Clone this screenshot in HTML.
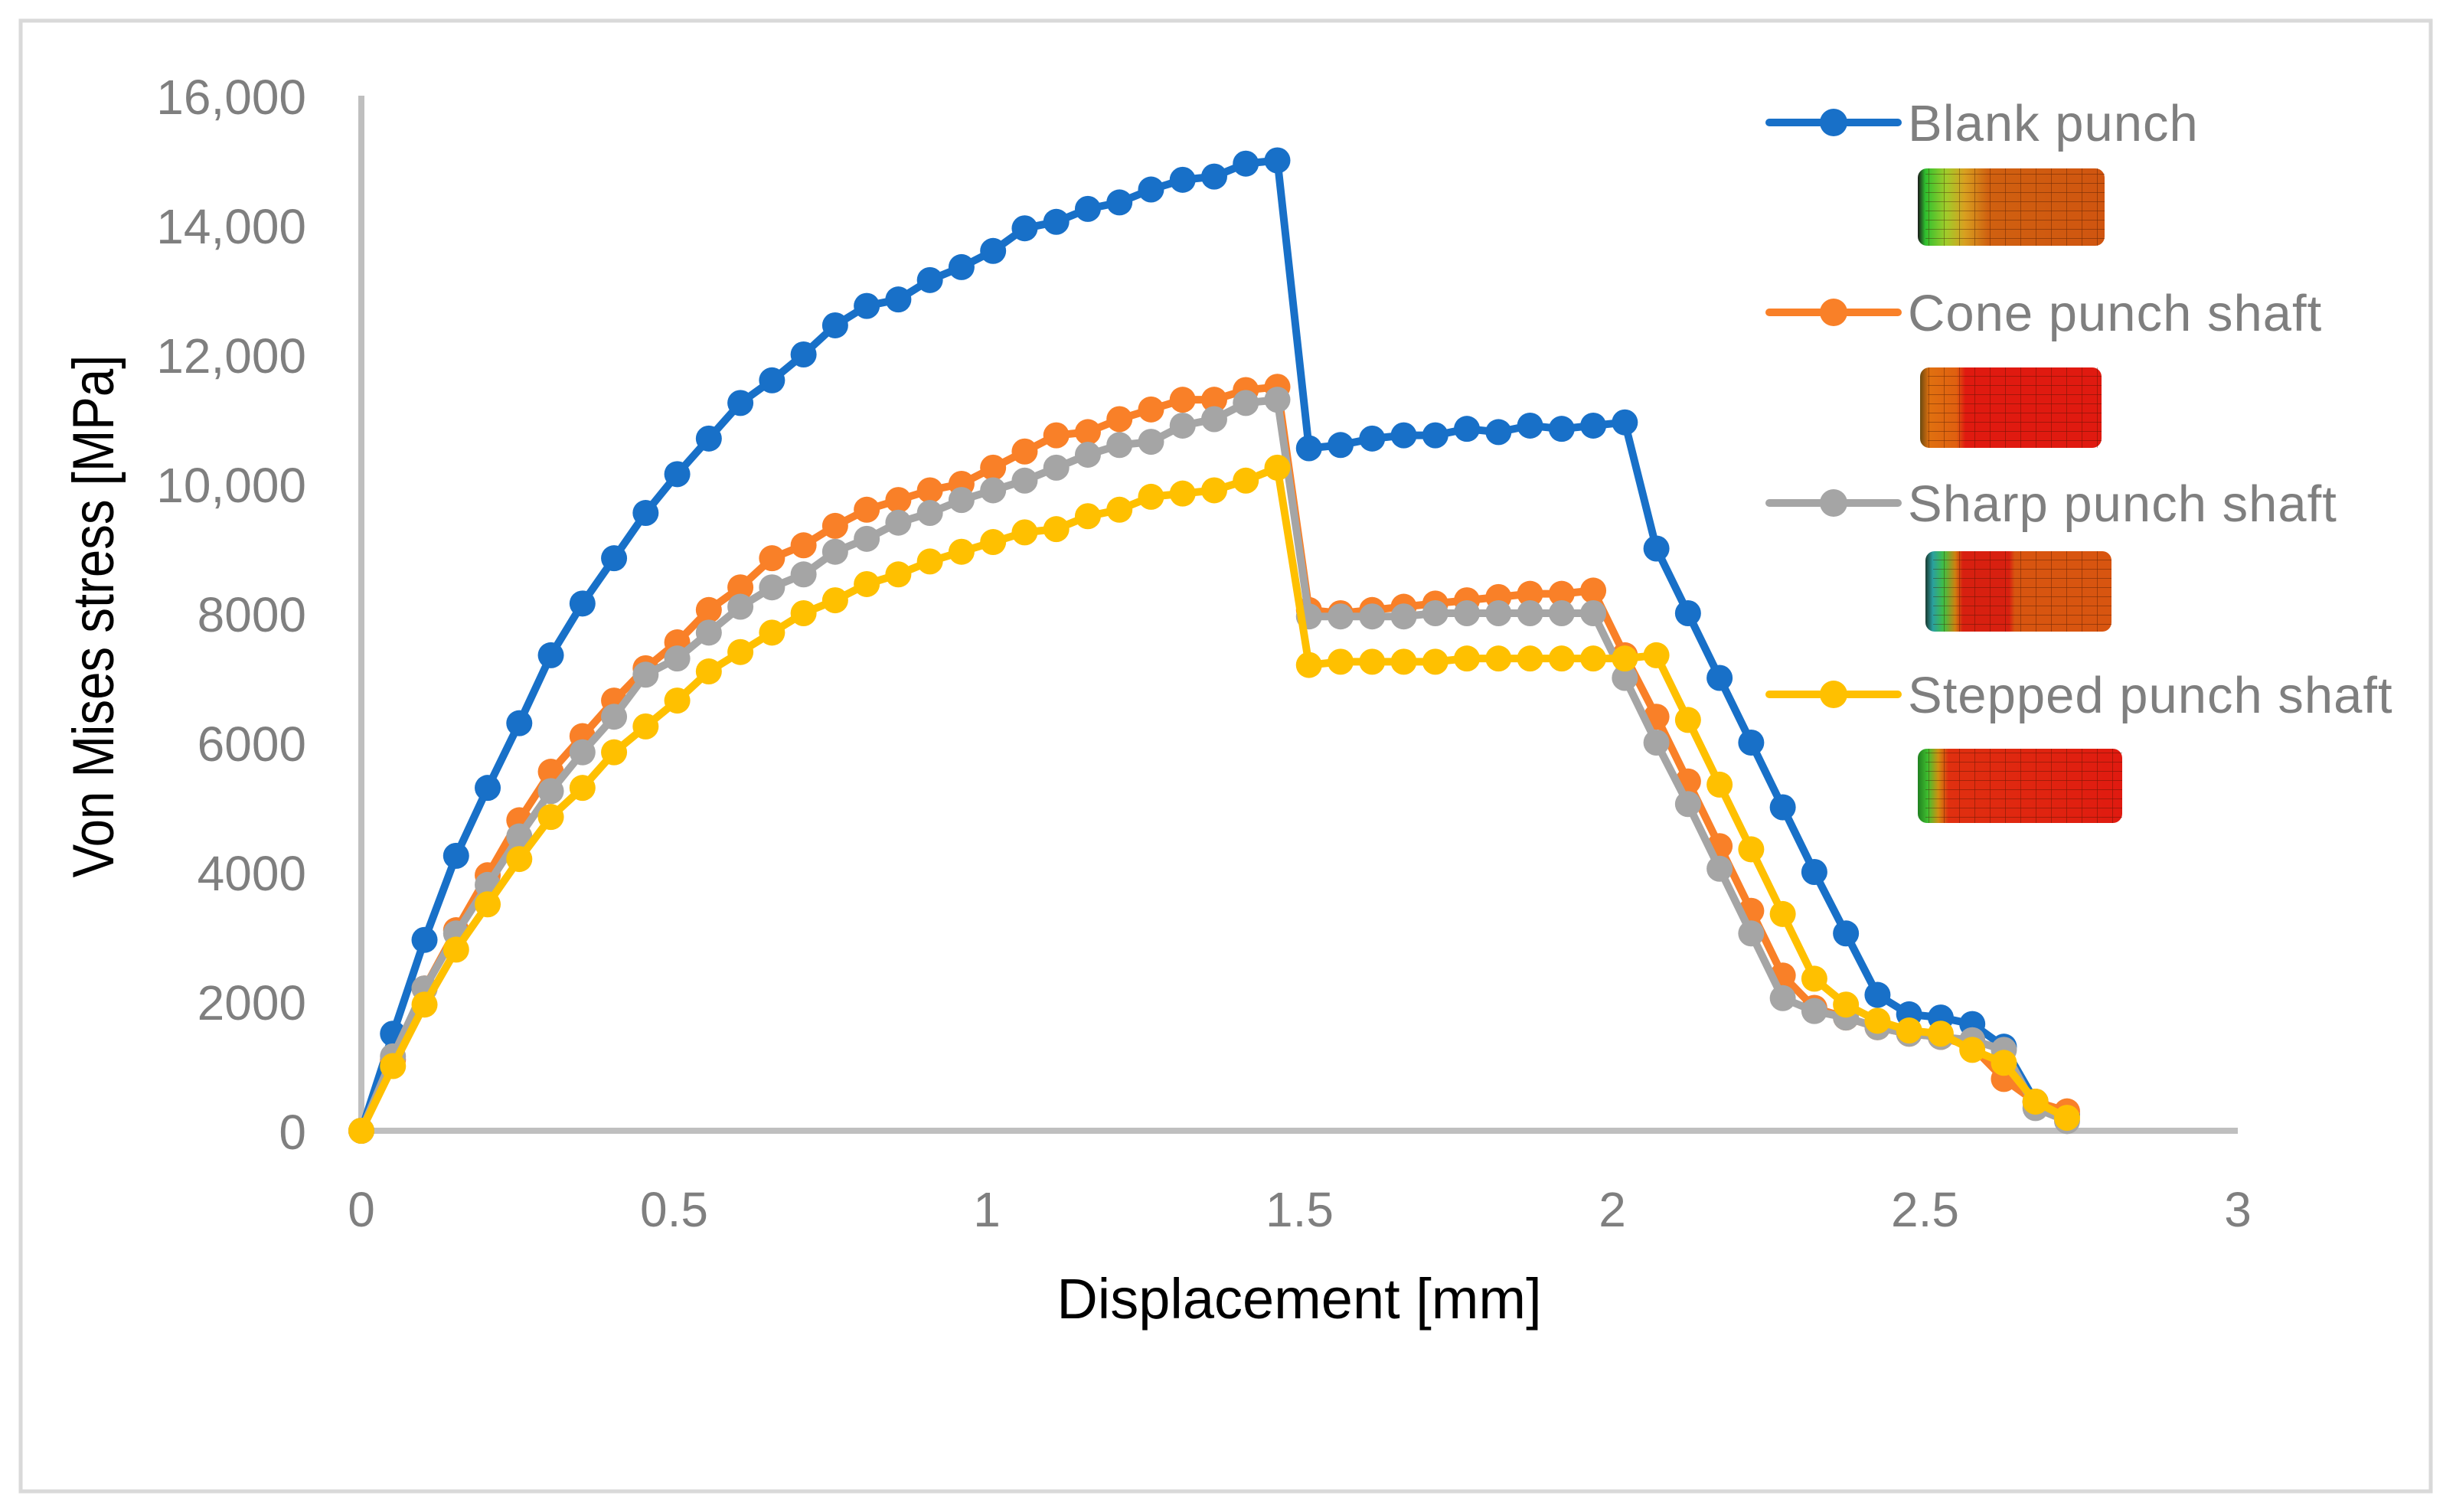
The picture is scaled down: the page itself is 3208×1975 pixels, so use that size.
<!DOCTYPE html>
<html><head><meta charset="utf-8"><style>
html,body{margin:0;padding:0;background:#fff;}
svg{display:block;}
</style></head><body>
<svg id="chart" width="3208" height="1975" viewBox="0 0 3208 1975" xmlns="http://www.w3.org/2000/svg" font-family="'Liberation Sans', sans-serif">
<defs>
<linearGradient id="g1" x1="0" x2="1"><stop offset="0" stop-color="#1a1a1a"/><stop offset="0.04" stop-color="#2fbf2f"/><stop offset="0.15" stop-color="#9fcc2a"/><stop offset="0.25" stop-color="#d8a020"/><stop offset="0.38" stop-color="#d06010"/><stop offset="1" stop-color="#d05510"/></linearGradient>
<linearGradient id="g2" x1="0" x2="1"><stop offset="0" stop-color="#6a4a10"/><stop offset="0.05" stop-color="#e07010"/><stop offset="0.2" stop-color="#e06010"/><stop offset="0.25" stop-color="#e01a10"/><stop offset="1" stop-color="#e01a10"/></linearGradient>
<linearGradient id="g3" x1="0" x2="1"><stop offset="0" stop-color="#1a3a30"/><stop offset="0.04" stop-color="#2aa0a0"/><stop offset="0.1" stop-color="#40c040"/><stop offset="0.16" stop-color="#d08010"/><stop offset="0.2" stop-color="#d82010"/><stop offset="0.45" stop-color="#d82010"/><stop offset="0.48" stop-color="#d85510"/><stop offset="1" stop-color="#d85510"/></linearGradient>
<linearGradient id="g4" x1="0" x2="1"><stop offset="0" stop-color="#208020"/><stop offset="0.05" stop-color="#40c030"/><stop offset="0.1" stop-color="#d09010"/><stop offset="0.15" stop-color="#e03010"/><stop offset="1" stop-color="#e01a10"/></linearGradient>
<pattern id="mesh" width="20" height="12" patternUnits="userSpaceOnUse"><path d="M20 0V12M0 12H20" stroke="#3a1000" stroke-width="1.2" fill="none" opacity="0.6"/></pattern>
</defs>
<rect x="27" y="27" width="3148" height="1921" fill="#fff" stroke="#d9d9d9" stroke-width="5"/>
<g id="axes"></g>
<g id="series"></g>
<g id="legend"></g>
</svg>
<script>
const xStep = 0.0505;
const yTicks = [0, 2000, 4000, 6000, 8000, 10000, 12000, 14000, 16000];
const yTickLabels = ["0","2000","4000","6000","8000","10,000","12,000","14,000","16,000"];
const xTicks = [0, 0.5, 1, 1.5, 2, 2.5, 3];
const xTickLabels = ["0","0.5","1","1.5","2","2.5","3"];
const seriesNames = ["Blank punch","Cone punch shaft","Sharp punch shaft","Stepped punch shaft"];
const blankPunch = [0,1500,2950,4250,5300,6300,7350,8150,8850,9550,10150,10700,11250,11600,12000,12450,12750,12850,13150,13350,13600,13950,14050,14250,14350,14550,14700,14750,14950,15000,
 10550,10600,10700,10750,10750,10850,10800,10900,10850,10900,10950,
 9000,8000,7000,6000,5000,4000,3050,2100,1800,1750,1650,1300,450,250];
const conePunch = [0,1100,2200,3100,3950,4800,5550,6100,6650,7150,7550,8050,8400,8850,9050,9350,9600,9750,9900,10000,10250,10500,10750,10800,11000,11150,11300,11300,11450,11500,
 8050,8000,8050,8100,8150,8200,8250,8300,8300,8350,
 7350,6400,5400,4400,3400,2400,1900,1750,1600,1500,1450,1300,800,450,300];
const sharpPunch = [0,1150,2200,3050,3800,4550,5250,5850,6400,7050,7300,7700,8100,8400,8600,8950,9150,9400,9550,9750,9900,10050,10250,10450,10600,10650,10900,11000,11250,11300,
 7950,7950,7950,7950,8000,8000,8000,8000,8000,8000,
 7000,6000,5050,4050,3050,2050,1850,1750,1600,1500,1450,1400,1250,350,150];
const steppedPunch = [0,1000,1950,2800,3500,4200,4850,5300,5850,6250,6650,7100,7400,7700,8000,8200,8450,8600,8800,8950,9100,9250,9300,9500,9600,9800,9850,9900,10050,10250,
 7200,7250,7250,7250,7250,7300,7300,7300,7300,7300,7300,7350,
 6350,5350,4350,3350,2350,1950,1700,1550,1500,1250,1050,450,200];
const colors = ["#1870c8","#f98028","#a5a5a5","#ffc000"];

const NS="http://www.w3.org/2000/svg";
const X0=472, X1=2923, Y0=1477, Y1=125;
function sx(v){return X0+(v/3)*(X1-X0);}
function sy(v){return Y0-(v/16000)*(Y0-Y1);}
function mk(tag,attrs,parent){const e=document.createElementNS(NS,tag);for(const k in attrs)e.setAttribute(k,attrs[k]);parent.appendChild(e);return e;}

const axes=document.getElementById('axes');
let yl=mk('line',{x1:X0,y1:Y1,x2:X0,y2:Y0,stroke:'#bfbfbf','stroke-width':8},axes);


let xl=mk('line',{x1:X0,y1:Y0,x2:X1,y2:Y0,stroke:'#bfbfbf','stroke-width':8},axes);


yTicks.forEach((v,i)=>{
  const t=mk('text',{x:400,y:sy(v)+24,'text-anchor':'end','font-size':64,fill:'#7f7f7f'},axes);
  t.textContent=yTickLabels[i];
  
  
});
xTicks.forEach((v,i)=>{
  const t=mk('text',{x:sx(v),y:1602,'text-anchor':'middle','font-size':64,fill:'#7f7f7f'},axes);
  t.textContent=xTickLabels[i];
  
  
});
let xt=mk('text',{x:1697,y:1722,'text-anchor':'middle','font-size':74,fill:'#000'},axes);
xt.textContent='Displacement [mm]';


let yt=mk('text',{x:0,y:0,'text-anchor':'middle','font-size':76,fill:'#000',transform:'translate(148,805) rotate(-90) scale(0.86,1)'},axes);
yt.textContent='Von Mises stress [MPa]';



const sg=document.getElementById('series');
const all=[blankPunch,conePunch,sharpPunch,steppedPunch];
const snames=['series-blank-punch','series-cone-punch-shaft','series-sharp-punch-shaft','series-stepped-punch-shaft'];
all.forEach((data,si)=>{
  const g=mk('g',{},sg);
  
  
  const pts=data.map((v,i)=>sx(i*xStep).toFixed(1)+','+sy(v).toFixed(1)).join(' ');
  const pl=mk('polyline',{points:pts,fill:'none',stroke:colors[si],'stroke-width':10,'stroke-linejoin':'round'},g);
  
  
  data.forEach((v,i)=>{
    const c=mk('circle',{cx:sx(i*xStep),cy:sy(v),r:17,fill:colors[si]},g);
    
    
  });
});

const lg=document.getElementById('legend');
const ly=[160,408,657,907];
const imgs=[[2505,220,244,101,'g1'],[2508,480,237,105,'g2'],[2515,720,243,105,'g3'],[2505,978,267,97,'g4']];
seriesNames.forEach((n,i)=>{
  const g=mk('g',{},lg);
  
  
  mk('line',{x1:2311,y1:ly[i],x2:2479,y2:ly[i],stroke:colors[i],'stroke-width':10,'stroke-linecap':'round'},g);
  mk('circle',{cx:2395,cy:ly[i],r:18,fill:colors[i]},g);
  const t=mk('text',{x:2492,y:ly[i]+24,'font-size':67,fill:'#7f7f7f','letter-spacing':'1'},g);
  t.textContent=n;
  const im=imgs[i];
  const ig=mk('g',{},g);
  
  
  mk('rect',{x:im[0],y:im[1],width:im[2],height:im[3],rx:12,fill:'url(#'+im[4]+')'},ig);
  mk('rect',{x:im[0]+10,y:im[1],width:im[2]-10,height:im[3],fill:'url(#mesh)'},ig);
});
</script>
</body></html>
